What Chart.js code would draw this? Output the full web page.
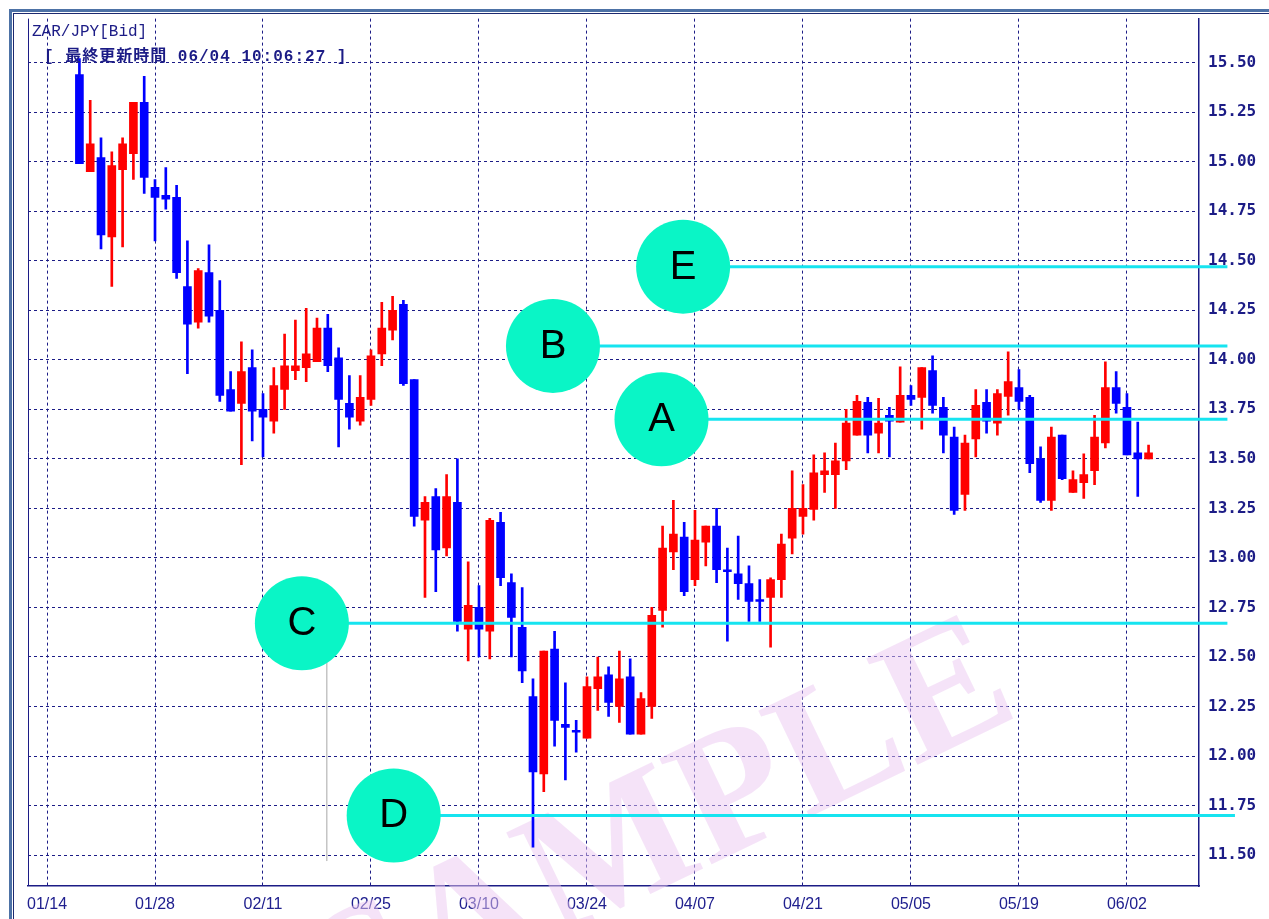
<!DOCTYPE html>
<html>
<head>
<meta charset="utf-8">
<script src="https://cdn.jsdelivr.net/npm/chart.js@4.4.1/dist/chart.umd.min.js"></script>
<style>
  body { margin: 0; background: #fff; }
  #wrap { width: 1269px; height: 919px; }
</style>
</head>
<body>
<div id="wrap"><canvas id="zarChart" width="1269" height="919"></canvas></div>
<script>
// ZAR/JPY daily candles, trading-day index 3 (01/17) .. 102 (06/04)
var firstDay = 3;
var openData = [15.44, 14.95, 15.02, 14.62, 14.96, 15.04, 15.30, 14.87, 14.83, 14.82,
    14.37, 14.19, 14.44, 14.25, 13.85, 13.78, 13.96, 13.75, 13.69, 13.85,
    13.945, 13.96, 13.99, 14.16, 14.01, 13.78, 13.69, 13.80, 14.03, 14.15,
    14.28, 13.90, 13.19, 13.31, 13.05, 13.28, 12.64, 12.75, 12.63, 13.18,
    12.875, 12.65, 12.30, 11.91, 12.54, 12.16, 12.13, 12.09, 12.34, 12.41,
    12.25, 12.40, 12.11, 12.25, 12.735, 13.03, 13.105, 12.89, 13.08, 13.16,
    12.94, 12.92, 12.87, 12.79, 12.80, 12.89, 13.10, 13.21, 13.245, 13.42,
    13.42, 13.49, 13.62, 13.785, 13.63, 13.72, 13.685, 13.82, 13.81, 13.945,
    13.76, 13.61, 13.32, 13.60, 13.785, 13.68, 13.815, 13.86, 13.81, 13.50,
    13.29, 13.62, 13.33, 13.38, 13.44, 13.58, 13.86, 13.76, 13.53, 13.50];
var highData = [15.52, 15.31, 15.12, 15.05, 15.12, 15.30, 15.43, 14.91, 14.97, 14.88,
    14.60, 14.46, 14.58, 14.40, 13.94, 14.09, 14.05, 13.83, 13.96, 14.13,
    14.20, 14.26, 14.21, 14.23, 14.06, 13.92, 13.92, 14.05, 14.29, 14.32,
    14.30, 13.90, 13.31, 13.35, 13.42, 13.50, 12.98, 12.86, 13.20, 13.23,
    12.92, 12.85, 12.39, 12.53, 12.63, 12.37, 12.18, 12.40, 12.50, 12.45,
    12.53, 12.49, 12.32, 12.75, 13.16, 13.29, 13.18, 13.24, 13.16, 13.25,
    13.05, 13.11, 12.96, 12.89, 12.90, 13.12, 13.44, 13.37, 13.52, 13.53,
    13.58, 13.75, 13.82, 13.81, 13.805, 13.76, 13.965, 13.87, 13.96, 14.02,
    13.81, 13.66, 13.62, 13.85, 13.85, 13.85, 14.04, 13.95, 13.82, 13.56,
    13.66, 13.62, 13.44, 13.525, 13.72, 13.99, 13.94, 13.83, 13.685, 13.57];
var lowData = [14.99, 14.95, 14.56, 14.37, 14.57, 14.91, 14.84, 14.60, 14.76, 14.41,
    13.93, 14.16, 14.19, 13.79, 13.74, 13.47, 13.59, 13.51, 13.63, 13.75,
    13.90, 13.89, 13.99, 13.94, 13.56, 13.65, 13.67, 13.77, 13.97, 14.10,
    13.87, 13.16, 12.80, 12.83, 13.01, 12.63, 12.48, 12.50, 12.49, 12.86,
    12.50, 12.37, 11.54, 11.82, 12.05, 11.88, 12.02, 12.09, 12.23, 12.20,
    12.17, 12.11, 12.11, 12.19, 12.65, 12.94, 12.81, 12.86, 12.96, 12.875,
    12.58, 12.79, 12.68, 12.68, 12.55, 12.80, 13.02, 13.12, 13.19, 13.33,
    13.25, 13.445, 13.62, 13.53, 13.53, 13.51, 13.685, 13.77, 13.65, 13.73,
    13.53, 13.22, 13.24, 13.51, 13.63, 13.62, 13.72, 13.75, 13.43, 13.28,
    13.24, 13.395, 13.33, 13.30, 13.37, 13.555, 13.73, 13.52, 13.31, 13.50];
var closeData = [14.99, 15.09, 14.63, 14.98, 15.09, 15.30, 14.92, 14.82, 14.81, 14.44,
    14.18, 14.45, 14.22, 13.82, 13.74, 13.94, 13.74, 13.71, 13.87, 13.97,
    13.97, 14.03, 14.16, 13.97, 13.80, 13.71, 13.81, 14.02, 14.16, 14.25,
    13.88, 13.21, 13.28, 13.04, 13.31, 12.68, 12.76, 12.64, 13.19, 12.90,
    12.70, 12.43, 11.92, 12.53, 12.18, 12.145, 12.12, 12.35, 12.40, 12.27,
    12.39, 12.11, 12.29, 12.71, 13.05, 13.12, 12.83, 13.09, 13.16, 12.94,
    12.93, 12.87, 12.78, 12.78, 12.89, 13.07, 13.25, 13.25, 13.43, 13.44,
    13.49, 13.68, 13.79, 13.62, 13.68, 13.69, 13.82, 13.80, 13.96, 13.77,
    13.62, 13.24, 13.58, 13.77, 13.69, 13.83, 13.89, 13.79, 13.475, 13.29,
    13.61, 13.40, 13.395, 13.42, 13.61, 13.86, 13.78, 13.52, 13.50, 13.53];

// x-axis: one grid line every 10 trading days
var xTickDays = [0, 10, 20, 30, 40, 50, 60, 70, 80, 90, 100];
var xTickLabels = ['01/14', '01/28', '02/11', '02/25', '03/10', '03/24', '04/07', '04/21', '05/05', '05/19', '06/02'];
var yTicks = [11.50, 11.75, 12.00, 12.25, 12.50, 12.75, 13.00, 13.25, 13.50, 13.75, 14.00, 14.25, 14.50, 14.75, 15.00, 15.25, 15.50];

// marked levels
var levelNames = ['E', 'B', 'A', 'C', 'D'];
var levelValues = [14.47, 14.07, 13.70, 12.67, 11.70];
var levelStart = [58.9, 46.85, 56.9, 23.6, 32.1];   // circle centres, trading-day units
var levelEnd = [109.3, 109.3, 109.3, 109.3, 110.0];

var UP = '#ff0000', DOWN = '#0000ff', NAVY = '#1c1c86';

var bodyPoints = [], wickPoints = [], candleColors = [];
for (var i = 0; i < openData.length; i++) {
    bodyPoints.push({ x: firstDay + i, y: [openData[i], closeData[i]] });
    wickPoints.push({ x: firstDay + i, y: [lowData[i], highData[i]] });
    candleColors.push(closeData[i] >= openData[i] ? UP : DOWN);
}

var datasets = [];
for (var k = 0; k < levelNames.length; k++) {
    datasets.push({
        type: 'line',
        label: 'level ' + levelNames[k],
        data: [{ x: levelStart[k], y: levelValues[k] }, { x: levelEnd[k], y: levelValues[k] }],
        borderColor: '#16e4f0',
        borderWidth: 3,
        pointRadius: 0,
        clip: false,
        order: -2
    });
}
datasets.push({
    type: 'line',
    label: 'circles',
    data: levelNames.map(function (n, k) { return { x: levelStart[k], y: levelValues[k] }; }),
    showLine: false,
    pointRadius: 47,
    pointBackgroundColor: '#0af5c6',
    pointBorderWidth: 0,
    clip: false,
    order: -3
});
datasets.push({
    type: 'line',
    label: 'thin',
    data: [{ x: 25.9, y: 12.48 }, { x: 25.9, y: 11.47 }],
    borderColor: '#c4c4c4',
    borderWidth: 1,
    pointRadius: 0,
    order: 2
});
datasets.push({
    type: 'bar',
    label: 'body',
    data: bodyPoints,
    backgroundColor: candleColors,
    barThickness: 8,
    minBarLength: 2,
    grouped: false,
    order: 0
});
datasets.push({
    type: 'bar',
    label: 'wick',
    data: wickPoints,
    backgroundColor: candleColors,
    barThickness: 2,
    grouped: false,
    order: 1
});

var decorations = {
    id: 'decorations',
    beforeDraw: function (chart) {
        var ctx = chart.ctx;
        ctx.save();
        ctx.fillStyle = '#fff';
        ctx.fillRect(0, 0, chart.width, chart.height);
        // outer frame
        ctx.strokeStyle = '#4d72a6';
        ctx.lineWidth = 3;
        ctx.strokeRect(10.5, 10.5, chart.width + 10, chart.height + 10);
        ctx.strokeStyle = '#1c2a70';
        ctx.lineWidth = 1;
        ctx.strokeRect(13.5, 13.5, chart.width + 10, chart.height + 10);
        ctx.restore();
    },
    beforeDatasetsDraw: function (chart) {
        var ctx = chart.ctx, a = chart.chartArea;
        ctx.save();
        ctx.beginPath();
        ctx.rect(0, 0, chart.width, chart.height);
        ctx.clip();
        ctx.translate(665, 835);
        ctx.rotate(-0.45);
        ctx.font = 'bold 180px "Liberation Serif"';
        ctx.textAlign = 'center';
        ctx.textBaseline = 'middle';
        ctx.fillStyle = 'rgba(236, 200, 242, 0.5)';
        ctx.fillText('SAMPLE', 0, 0);
        ctx.restore();
        // left border of plot area
        ctx.save();
        ctx.strokeStyle = NAVY;
        ctx.lineWidth = 1;
        ctx.beginPath();
        ctx.moveTo(a.left + 0.5, a.top);
        ctx.lineTo(a.left + 0.5, a.bottom);
        ctx.stroke();
        ctx.restore();
    },
    afterDraw: function (chart) {
        var ctx = chart.ctx, xs = chart.scales.x, ys = chart.scales.y;
        ctx.save();
        ctx.fillStyle = '#000';
        ctx.font = '40px "Liberation Sans"';
        ctx.textAlign = 'center';
        ctx.textBaseline = 'middle';
        for (var k = 0; k < levelNames.length; k++) {
            ctx.fillText(levelNames[k], xs.getPixelForValue(levelStart[k]), ys.getPixelForValue(levelValues[k]) + 1);
        }
        ctx.fillStyle = NAVY;
        ctx.textAlign = 'left';
        ctx.textBaseline = 'alphabetic';
        ctx.font = '16px "Liberation Mono"';
        ctx.fillText('ZAR/JPY[Bid]', 32, 36);
        ctx.font = 'bold 16px "Liberation Mono", "Noto Sans CJK JP"';
        ctx.letterSpacing = '1px';
        ctx.fillText('[ 最終更新時間 06/04 10:06:27 ]', 44, 61);
        ctx.restore();
    }
};

var zarChart = new Chart(document.getElementById('zarChart'), {
    type: 'bar',
    data: { datasets: datasets },
    plugins: [decorations],
    options: {
        responsive: false,
        animation: false,
        layout: { autoPadding: false, padding: { left: 28, top: 18, right: 0, bottom: 0 } },
        plugins: { legend: { display: false }, tooltip: { enabled: false } },
        scales: {
            x: {
                type: 'linear',
                offset: false,
                min: -1.76,
                max: 106.67,
                afterBuildTicks: function (scale) {
                    scale.ticks = xTickDays.map(function (d) { return { value: d }; });
                },
                afterFit: function (scale) { scale.height = 33; },
                ticks: {
                    callback: function (v) { return xTickLabels[xTickDays.indexOf(v)]; },
                    color: '#20208f',
                    font: { family: '"Liberation Sans Narrow", "Liberation Sans"', size: 16 },
                    padding: 9,
                    maxRotation: 0,
                    autoSkip: false
                },
                grid: { offset: false, color: NAVY, lineWidth: 1, drawTicks: false },
                border: { color: NAVY, width: 1.5, dash: [3, 3] }
            },
            y: {
                type: 'linear',
                position: 'right',
                min: 11.344,
                max: 15.722,
                afterBuildTicks: function (scale) {
                    scale.ticks = yTicks.map(function (v) { return { value: v }; });
                },
                afterFit: function (scale) { scale.width = 70; },
                ticks: {
                    callback: function (v) { return v.toFixed(2); },
                    color: NAVY,
                    font: { family: '"DejaVu Sans Mono"', size: 16, weight: 'bold' },
                    padding: 9
                },
                grid: { color: NAVY, lineWidth: 1, drawTicks: false },
                border: { color: NAVY, width: 1.5, dash: [3, 3] }
            }
        }
    }
});
</script>
</body>
</html>
